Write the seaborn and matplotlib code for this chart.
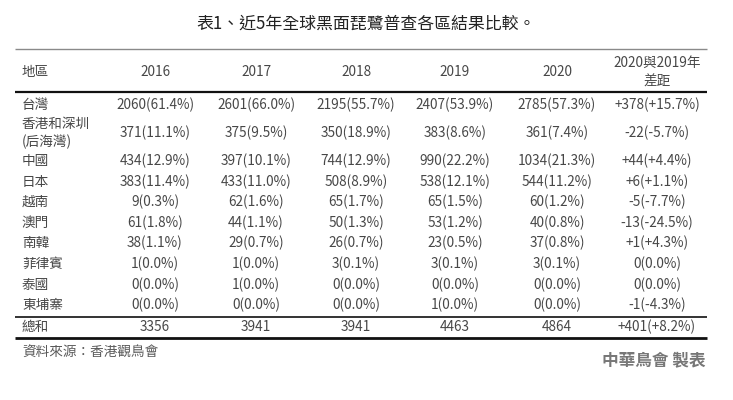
import numpy as np
import pandas as pd
import seaborn as sns
import matplotlib.pyplot as plt

sns.set_theme(style="white")
plt.rcParams['font.family'] = ['Noto Sans CJK TC', 'DejaVu Sans']

title = "表1、近5年全球黑面琵鷺普查各區結果比較。"
header = ["地區", "2016", "2017", "2018", "2019", "2020", "2020與2019年\n差距"]

regions = ["台灣", "香港和深圳\n(后海灣)", "中國", "日本", "越南", "澳門",
           "南韓", "菲律賓", "泰國", "東埔寨"]
counts_2016 = [2060, 371, 434, 383, 9, 61, 38, 1, 0, 0]
pct_2016 = ["61.4", "11.1", "12.9", "11.4", "0.3", "1.8", "1.1", "0.0", "0.0", "0.0"]
counts_2017 = [2601, 375, 397, 433, 62, 44, 29, 1, 1, 0]
pct_2017 = ["66.0", "9.5", "10.1", "11.0", "1.6", "1.1", "0.7", "0.0", "0.0", "0.0"]
counts_2018 = [2195, 350, 744, 508, 65, 50, 26, 3, 0, 0]
pct_2018 = ["55.7", "18.9", "12.9", "8.9", "1.7", "1.3", "0.7", "0.1", "0.0", "0.0"]
counts_2019 = [2407, 383, 990, 538, 65, 53, 23, 3, 0, 1]
pct_2019 = ["53.9", "8.6", "22.2", "12.1", "1.5", "1.2", "0.5", "0.1", "0.0", "0.0"]
counts_2020 = [2785, 361, 1034, 544, 60, 40, 37, 3, 0, 0]
pct_2020 = ["57.3", "7.4", "21.3", "11.2", "1.2", "0.8", "0.8", "0.1", "0.0", "0.0"]
diff = ["+378(+15.7%)", "-22(-5.7%)", "+44(+4.4%)", "+6(+1.1%)", "-5(-7.7%)",
        "-13(-24.5%)", "+1(+4.3%)", "0(0.0%)", "0(0.0%)", "-1(-4.3%)"]
totals = [3356, 3941, 3941, 4463, 4864]
total_diff = "+401(+8.2%)"
total_label = "總和"
source = "資料來源：香港觀鳥會"
credit = "中華鳥會 製表"

df = pd.DataFrame({"地區": regions})
for yr, c, p in zip(header[1:6],
                    [counts_2016, counts_2017, counts_2018, counts_2019, counts_2020],
                    [pct_2016, pct_2017, pct_2018, pct_2019, pct_2020]):
    df[yr] = [f"{a}({b}%)" for a, b in zip(c, p)]
df["diff"] = diff

# layout (pixel units)
col_x = [22, 155, 256, 356, 455, 557, 657]
row_y = [105, 133, 161, 181.6, 202, 222.7, 243, 264, 284.5, 305]
header_y = 72
total_y = 327
txt = "#474747"
fs = 9.8

fig = plt.figure(figsize=(7.33, 4.0), dpi=100)
ax = fig.add_axes([0, 0, 1, 1])
ax.set_xlim(0, 733)
ax.set_ylim(400, 0)
ax.axis("off")

ax.text(366, 24, title, ha="center", va="center", fontsize=12.2, color="#222222")

for i, h in enumerate(header):
    ax.text(col_x[i], header_y, h, ha="left" if i == 0 else "center", va="center",
            fontsize=fs, color=txt, linespacing=1.45, fontweight="light")

for r, (_, row) in enumerate(df.iterrows()):
    for i, val in enumerate(row.values):
        ax.text(col_x[i], row_y[r], val, ha="left" if i == 0 else "center",
                va="center", fontsize=fs, color=txt, linespacing=1.3,
                fontweight="light")

ax.text(col_x[0], total_y, total_label, ha="left", va="center", fontsize=fs,
        color=txt, fontweight="light")
for i, t in enumerate(totals):
    ax.text(col_x[i + 1], total_y, str(t), ha="center", va="center", fontsize=fs,
            color=txt, fontweight="light")
ax.text(col_x[6], total_y, total_diff, ha="center", va="center", fontsize=fs,
        color=txt, fontweight="light")

x0, x1 = 15, 707
ax.hlines(49, x0, x1, color="#8a8a8a", lw=1.0)
ax.hlines(92, x0, x1, color="#111111", lw=1.6)
ax.hlines(316.5, x0, x1, color="#111111", lw=1.2)
ax.hlines(338, x0, x1, color="#111111", lw=2.0)

ax.text(22, 352, source, ha="left", va="center", fontsize=fs, color="#5a5a5a",
        fontweight="light")
ax.text(706, 360, credit, ha="right", va="center", fontsize=12, color="#777777",
        fontweight="bold")

fig.savefig("out.png", dpi=100)
